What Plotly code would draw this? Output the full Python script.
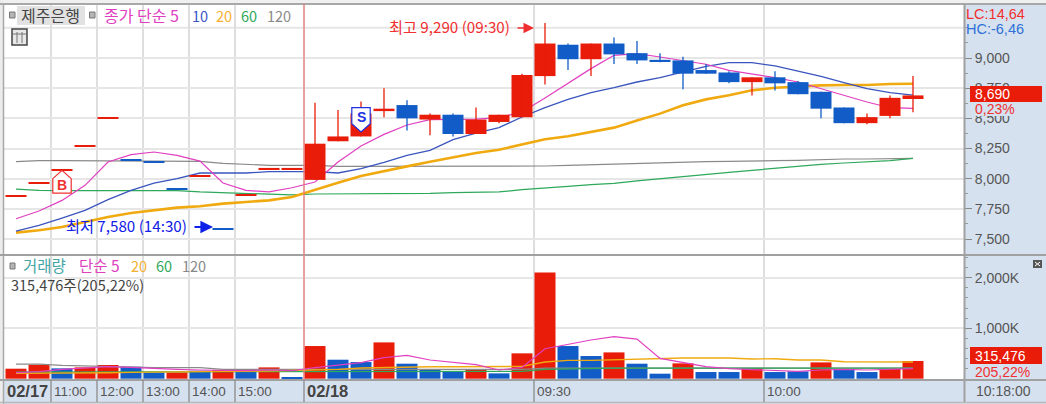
import plotly.graph_objects as go

W, H = 1046, 404
RED, BLUE = "#E81C08", "#125CC8"
MAG, NAVY, ORG, GRN, GRY = "#E040C0", "#3A55BE", "#F0AA10", "#2EA85A", "#8A8A8A"
AX = "#D6E1EF"
FK = "Noto Sans CJK KR"
FN = "Liberation Sans"

opens = [7850,7960,8070,8270,8500,8150,8130,7910,8020,7580,7860,8080,8080,
         7990,8310,8350,8560,8610,8490,8530,8370,8470,8510,8850,9110,8990,9120,9040,
         8985,8980,8900,8880,8800,8840,8800,8720,8590,8460,8520,8660]
closes = [7850,7960,8070,8270,8500,8150,8130,7910,8020,7580,7860,8080,8080,
          8290,8350,8540,8580,8500,8530,8370,8490,8530,8860,9120,8990,9120,9030,8980,
          8970,8870,8870,8800,8840,8790,8700,8580,8460,8510,8670,8690]
highs = [7850,7960,8070,8270,8500,8150,8130,7910,8020,7580,7860,8080,8080,
         8630,8570,8640,8750,8650,8540,8540,8590,8530,8870,9290,9120,9120,9170,9140,
         9040,9010,8950,8890,8840,8890,8810,8720,8590,8540,8690,8850]
lows = [7850,7960,8070,8270,8500,8150,8130,7910,8020,7580,7860,8080,8080,
        7990,8310,8350,8510,8400,8360,8350,8370,8460,8510,8780,8900,8850,8950,8950,
        8965,8740,8870,8790,8690,8730,8700,8500,8460,8450,8500,8550]
candle_dir = list("rrrrrbbbrbrrr" "rrrrbrbrrrrbrbb" "bbbbrbbbbrrr")

ma5 = [7668,7732,7820,7945,8138,8199,8221,8193,8146,7964,7903,7890,7925,7972,8138,8271,8367,8445,8489,8494,
       8494,8506,8552,8669,8787,8912,9022,9036,9008,8981,8948,8898,8870,8837,8801,8746,8691,8635,8588,8583]
ma10 = [7566,7613,7674,7738,7826,7903,7964,8000,8047,8047,8047,8058,8058,8058,8047,8083,8135,8193,8235,8323,
        8378,8423,8511,8588,8657,8713,8754,8801,8837,8884,8931,8961,8961,8934,8892,8848,8796,8746,8713,8693]
ma20 = [7553,7572,7599,7641,7682,7715,7738,7760,7771,7793,7807,7820,7848,7909,7967,8022,8064,8102,8141,8180,
        8213,8240,8282,8326,8351,8387,8423,8483,8539,8608,8657,8691,8732,8754,8765,8773,8776,8776,8785,8787]
ma60 = [7914,7903,7901,7901,7901,7901,7901,7901,7890,7884,7876,7870,7865,7873,7873,7873,7873,7876,7878,7884,
        7887,7890,7909,7920,7936,7950,7961,7981,8000,8019,8036,8052,8069,8086,8102,8119,8130,8141,8149,8169]
ma120 = [8141,8149,8149,8149,8149,8149,8149,8149,8144,8127,8119,8111,8111,8111,8102,8102,8102,8102,8102,8102,
         8102,8102,8102,8105,8111,8116,8124,8130,8135,8141,8141,8144,8149,8149,8152,8160,8163,8163,8163,8169]

volume = [198,277,205,224,271,238,125,125,158,172,139,224,33,647,376,330,719,297,185,152,
          185,106,502,2105,647,449,521,297,99,304,132,132,211,132,145,323,191,132,198,350]
vol_dir = list("rrbrrbbrbrbrb" "rbbrbbbrbrrbbrb" "brbbrbbrbbrr")
vma5 = [119,139,185,211,238,224,198,185,172,165,158,172,158,218,271,317,416,462,370,317,
        277,172,224,594,680,766,832,785,403,317,238,198,185,158,145,172,185,172,185,198]
vma20 = [106,106,112,119,119,125,132,139,139,145,145,152,158,172,185,211,224,238,238,238,
         238,238,244,330,363,363,376,389,396,409,409,409,389,396,370,370,337,337,330,330]
vma60 = [132,132,132,132,132,132,132,132,132,132,132,132,132,132,132,139,139,139,139,145,
         145,145,145,185,198,211,211,211,211,211,211,211,211,211,211,211,211,211,211,211]
vma120 = [290,290,264,251,244,238,218,218,218,185,185,185,185,185,185,185,185,185,185,185,
          185,185,185,211,211,211,211,211,211,211,211,211,211,211,211,211,211,211,211,211]

time_labels = ["11:00", "12:00", "13:00", "14:00", "15:00", "02/18", "09:30", "10:00"]
time_index = [2, 4, 6, 8, 10, 13, 23, 33]
price_ticks = [7500, 7750, 8000, 8250, 8500, 8750, 9000, 9250]
vol_ticks = [1000, 2000]
vol_ticktext = ["1,000K", "2,000K"]

idx = list(range(len(closes)))
edges = [i - 11 / 23 for i in time_index]
SLOT = 23
xr = [(4 - 16) / SLOT, (964 - 16) / SLOT]
yp = [9000 - (255 - 58) * 8.287, 9000 + (58 - 4) * 8.287]
yv = [(378.7 - 380) / 0.0505, (378.7 - 255) / 0.0505]


def fy(y):
    return 1 - y / H


fig = go.Figure()


def line(y, c, w, xa, ya):
    fig.add_trace(go.Scatter(x=idx, y=y, mode="lines", line=dict(color=c, width=w),
                             xaxis=xa, yaxis=ya, hoverinfo="skip"))


for s, c, w in [(ma120, GRY, 1.2), (ma60, GRN, 1.2), (ma20, ORG, 2.6), (ma10, NAVY, 1.3), (ma5, MAG, 1.2)]:
    line(s, c, w, "x", "y")

for d, c in [("r", RED), ("b", BLUE)]:
    ids = [i for i in idx if candle_dir[i] == d]
    fig.add_trace(go.Bar(x=ids, base=[min(opens[i], closes[i]) for i in ids],
                         y=[max(abs(closes[i] - opens[i]), 9) for i in ids],
                         width=21 / 23, marker=dict(color=c, line=dict(width=0)),
                         xaxis="x", yaxis="y3", hoverinfo="skip"))
    wx, wy = [], []
    for i in ids:
        if highs[i] != lows[i]:
            wx += [i, i, None]
            wy += [lows[i], highs[i], None]
    fig.add_trace(go.Scatter(x=wx, y=wy, mode="lines", line=dict(color=c, width=1.3),
                             xaxis="x", yaxis="y3", hoverinfo="skip"))

for d, c in [("r", RED), ("b", BLUE)]:
    ids = [i for i in idx if vol_dir[i] == d]
    fig.add_trace(go.Bar(x=ids, y=[volume[i] for i in ids], width=21 / 23,
                         marker=dict(color=c, line=dict(width=0)),
                         xaxis="x2", yaxis="y2", hoverinfo="skip"))
for s, c, w in [(vma120, GRY, 1.2), (vma60, GRN, 1.2), (vma20, ORG, 1.4), (vma5, MAG, 1.2)]:
    line(s, c, w, "x2", "y2")

shapes, anns = [], []


def rect(x0, y0, x1, y1, fill, lc=None, lw=0):
    shapes.append(dict(type="rect", xref="paper", yref="paper", x0=x0 / W, x1=x1 / W,
                       y0=fy(y0), y1=fy(y1), fillcolor=fill, layer="above",
                       line=dict(color=lc or fill, width=lw)))


def hv(x0, y0, x1, y1, c, w=1.5):
    shapes.append(dict(type="line", xref="paper", yref="paper", x0=x0 / W, x1=x1 / W,
                       y0=fy(y0), y1=fy(y1), layer="above", line=dict(color=c, width=w)))


def txt(x, y, t, c, size=14, font=FK, xa="left", bg=None):
    anns.append(dict(xref="paper", yref="paper", x=x / W, y=fy(y), text=t, showarrow=False,
                     xanchor=xa, yanchor="middle", align="left", bgcolor=bg,
                     borderpad=0, font=dict(family=font, size=size, color=c)))


# frame
rect(0, 0, W, 4, "#F0F0F0")
rect(0, 0, 3, H, "#ECECEC")
hv(0, 4, W, 4, "#A8A8A8", 2)
hv(3.5, 4, 3.5, H, "#A8A8A8", 1.5)
hv(0, 255, W, 255, "#A0A0A0", 2)
hv(0, 380, W, 380, "#A0A0A0", 2)
hv(964.5, 4, 964.5, 402, "#A0A0A0", 2)
hv(0, 402.5, W, 402.5, "#B8B8B8", 1.5)

# 02/18 session line
shapes.append(dict(type="line", xref="x", yref="paper", x0=edges[5], x1=edges[5],
                   y0=fy(4), y1=fy(380), layer="above",
                   line=dict(color="#EE7E7E", width=1.3)))

# bottom axis dividers and labels
for e in edges:
    shapes.append(dict(type="line", xref="x", yref="paper", x0=e, x1=e, y0=fy(380), y1=fy(402),
                       layer="above", line=dict(color="#909090", width=1.4)))
txt(6, 391, "<b>02/17</b>", "#444444", 16.5, FN)
for lab, e in zip(time_labels, edges):
    bold = lab == "02/18"
    anns.append(dict(xref="x", yref="paper", x=e, xshift=1, y=fy(391),
                     text=f"<b>{lab}</b>" if bold else lab,
                     showarrow=False, xanchor="left", yanchor="middle",
                     font=dict(family=FN, size=16.5 if bold else 13.5,
                               color="#444444" if bold else "#555555")))
txt(975, 391, "10:18:00", "#555555", 14, FN)

# top-left legend
rect(9.5, 12, 15, 18, "#B4B4B4", "#777777", 1)
rect(17, 6, 85, 25, "#E2E2E2")
txt(20, 15, "제주은행", "#444444", 16)
rect(89.5, 12, 95, 18, "#B4B4B4", "#777777", 1)
txt(103, 15, "종가 단순 5", MAG, 16)
txt(191, 15, "10", "#3A55C8", 14.5)
txt(215, 15, "20", "#F5B030", 14.5)
txt(240, 15, "60", GRN, 14.5)
txt(266, 15, "120", "#888888", 14.5)
rect(12, 29, 27, 45, "#E8E8E8", "#444444", 1.5)
for gx in (17, 22):
    hv(gx, 32, gx, 43, "#777777", 1)
hv(13, 34, 26, 34, "#777777", 1)

# volume legend
rect(10, 263, 15, 269, "#B4B4B4", "#777777", 1)
txt(22, 265, "거래량", "#45A5A5", 15.5)
txt(78, 265, "단순 5", MAG, 15.5)
txt(130, 265, "20", "#F5B030", 14.5)
txt(155, 265, "60", GRN, 14.5)
txt(181, 265, "120", "#888888", 14.5)
txt(10, 284, "315,476주(205,22%)", "#444444", 14.5)

# extremes
txt(388, 26, "최고 9,290 (09:30)", "#F03030", 15.2)
txt(65, 225, "최저 7,580 (14:30)", "#1020E8", 15.2)
anns.append(dict(xref="paper", yref="paper", x=534 / W, y=fy(28), ax=-18, ay=0, text="",
                 showarrow=True, arrowhead=2, arrowsize=1.4, arrowwidth=1.5, arrowcolor="#F03030"))
anns.append(dict(xref="paper", yref="paper", x=213 / W, y=fy(227), ax=-20, ay=0, text="",
                 showarrow=True, arrowhead=2, arrowsize=1.4, arrowwidth=1.8, arrowcolor="#1020E8"))

# B / S signals
b_i, s_i = 2, 15
shapes.append(dict(type="path", xref="x", yref="y3", layer="above", fillcolor="white",
                   line=dict(color="#F03030", width=1.2),
                   path=f"M {b_i-0.4} 7880 L {b_i+0.4} 7880 L {b_i+0.4} 8000 L {b_i} 8070 L {b_i-0.4} 8000 Z"))
shapes.append(dict(type="path", xref="x", yref="y3", layer="above", fillcolor="white",
                   line=dict(color="#2030E0", width=1.2),
                   path=f"M {s_i-0.4} 8588 L {s_i+0.4} 8588 L {s_i+0.4} 8456 L {s_i} 8387 L {s_i-0.4} 8456 Z"))
anns.append(dict(xref="x", yref="y3", x=b_i, y=7950, text="<b>B</b>", showarrow=False,
                 font=dict(family=FN, size=14, color="#F03030")))
anns.append(dict(xref="x", yref="y3", x=s_i, y=8510, text="<b>S</b>", showarrow=False,
                 font=dict(family=FN, size=14, color="#2030E0")))

# right column readouts
txt(965, 14, "LC:14,64", "#F03030", 14.5, FN)
txt(965, 29, "HC:-6,46", "#2E70D8", 14.5, FN)
rect(970, 86, 1042, 102, RED)
txt(974, 94, "8,690", "#FFFFFF", 14, FN)
rect(972, 102, 1030, 116, AX)
txt(974, 109, "0,23%", "#F03030", 14, FN)
rect(970, 347, 1042, 364, RED)
txt(974, 355.5, "315,476", "#FFFFFF", 14, FN)
txt(974, 372, "205,22%", "#F03030", 14, FN)
rect(1033, 260, 1042, 268, "#555555")
hv(1035, 262, 1040, 266, "#FFFFFF", 1)
hv(1035, 266, 1040, 262, "#FFFFFF", 1)

tf = dict(family=FN, size=14, color="#555555")
fig.update_layout(
    width=W, height=H, margin=dict(l=0, r=0, t=0, b=0, pad=0), autosize=False,
    paper_bgcolor=AX, plot_bgcolor="white", showlegend=False, barmode="overlay",
    shapes=shapes, annotations=anns,
    xaxis=dict(domain=[4 / W, 964 / W], range=xr, anchor="y", tickmode="array", tickvals=edges,
               showticklabels=False, ticks="", showgrid=True, gridcolor="#DEDEDE", gridwidth=2,
               zeroline=False),
    xaxis2=dict(domain=[4 / W, 964 / W], range=xr, anchor="y2", tickmode="array", tickvals=edges,
                showticklabels=False, ticks="", showgrid=True, gridcolor="#DEDEDE", gridwidth=2,
                zeroline=False),
    yaxis=dict(domain=[fy(255), fy(4)], range=yp, side="right", anchor="x", tickmode="array",
               tickvals=price_ticks[:-1], tickformat=",d", tickfont=tf, ticks="outside", ticklen=7,
               tickcolor="#888888", showgrid=True, gridcolor="#E6E6E6", gridwidth=2, zeroline=False,
               minor=dict(tickmode="array", tickvals=[7625, 7875, 8125, 8375, 8625, 8875, 9125, 9250, 7375],
                          ticks="outside", ticklen=3, tickcolor="#999999", showgrid=False)),
    yaxis3=dict(domain=[fy(255), fy(4)], range=yp, overlaying="y", side="right", anchor="x",
                visible=False, showgrid=False),
    yaxis2=dict(domain=[fy(380), fy(255)], range=yv, side="right", anchor="x2", tickmode="array",
                tickvals=vol_ticks, ticktext=vol_ticktext, tickfont=tf, ticks="outside", ticklen=7,
                tickcolor="#888888", showgrid=True, gridcolor="#E6E6E6", gridwidth=2, zeroline=False,
                minor=dict(tickmode="array", tickvals=[200, 400, 600, 800, 1200, 1400, 1600, 1800, 2200, 2400],
                           ticks="outside", ticklen=3, tickcolor="#999999", showgrid=False)),
)
# extra price grid line above the labelled range
fig.add_shape(type="line", xref="x", yref="y", x0=xr[0], x1=xr[1], y0=price_ticks[-1], y1=price_ticks[-1],
              layer="below", line=dict(color="#E6E6E6", width=2))

fig.write_html("out.html", config=dict(displayModeBar=False),
               post_script="document.body.style.margin='0';document.body.style.overflow='hidden';")
